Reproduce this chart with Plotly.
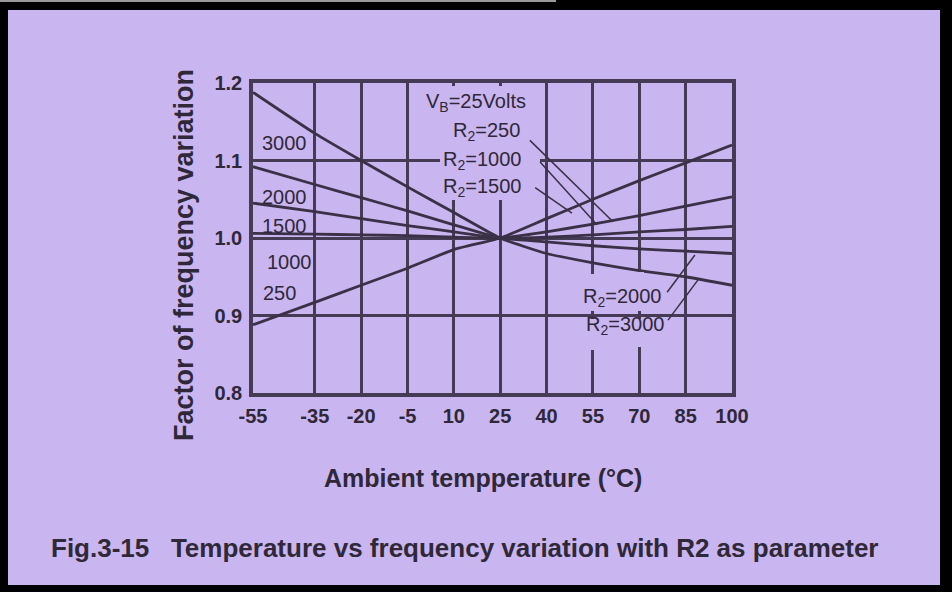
import plotly.graph_objects as go

# ---- data ----
temps = [-55, -35, -20, -5, 10, 25, 40, 55, 70, 85, 100]
tick_temps = [-55, -35, -20, -5, 10, 25, 40, 55, 70, 85, 100]
tick_factor = [0.8, 0.9, 1.0, 1.1, 1.2]
tick_factor_text = ["0.8", "0.9", "1.0", "1.1", "1.2"]

r250 = [0.888, 0.917, 0.939, 0.961, 0.985, 1.0, 1.025, 1.050, 1.074, 1.097, 1.120]
r1000 = [1.006, 1.005, 1.004, 1.003, 1.001, 1.0, 1.008, 1.018, 1.029, 1.041, 1.053]
r1500 = [1.045, 1.034, 1.025, 1.016, 1.008, 1.0, 1.001, 1.004, 1.008, 1.011, 1.015]
r2000 = [1.092, 1.069, 1.052, 1.035, 1.017, 1.0, 0.995, 0.990, 0.986, 0.983, 0.980]
r3000 = [1.188, 1.135, 1.100, 1.066, 1.033, 1.0, 0.980, 0.968, 0.958, 0.950, 0.939]

series = [("250", r250), ("1000", r1000), ("1500", r1500), ("2000", r2000), ("3000", r3000)]

BG = "#C9B5EF"
INK = "#2f2838"
GRID = "#463b54"
LINE = "#3a3146"

W, H = 952, 592
ML, MR, MT, MB = 253, 220, 83, 199
PW, PH = W - ML - MR, H - MT - MB


def px(xp):
    return (xp - ML) / PW


def py(yp):
    return (H - MB - yp) / PH


fig = go.Figure()
for name, vals in series:
    fig.add_trace(go.Scatter(x=temps, y=vals, mode="lines", name=name,
                             line=dict(color=LINE, width=2.8, shape="spline", smoothing=0.5),
                             showlegend=False, hoverinfo="skip"))

FONT = "Liberation Sans, Arial, sans-serif"


def note(text, xp, yp, size, bold=False, angle=0):
    f = dict(family=FONT, size=size, color=INK)
    if bold:
        f["weight"] = "bold"
    return dict(x=px(xp), y=py(yp), xref="paper", yref="paper", text=text,
                xanchor="center", yanchor="middle", showarrow=False,
                textangle=angle, font=f)


annotations = []
# left-side labels inside plot
for txt, xp, yp in [("3000", 284, 143), ("2000", 284, 197), ("1500", 284, 226),
                    ("1000", 289, 262), ("250", 279, 293)]:
    annotations.append(note(txt, xp, yp, 20))

# upper right labels block
for txt, xp, yp in [("V<sub>B</sub>=25Volts", 476, 102), ("R<sub>2</sub>=250", 486, 131),
                    ("R<sub>2</sub>=1000", 482, 160), ("R<sub>2</sub>=1500", 482, 187)]:
    annotations.append(note(txt, xp, yp, 20))

# lower right labels
for txt, xp, yp in [("R<sub>2</sub>=2000", 622, 297), ("R<sub>2</sub>=3000", 625, 325)]:
    annotations.append(note(txt, xp, yp, 20))

# axis titles and caption
annotations.append(note("Factor of frequency variation", 184, 255, 27, bold=True, angle=-90))
annotations.append(note("Ambient tempperature (°C)", 483, 478, 25, bold=True))
annotations.append(note("Fig.3-15   Temperature vs frequency variation with R2 as parameter",
                        464, 548, 26, bold=True))

shapes = []
# background patches where the labels hide the grid
for x0, y0, x1, y1 in [(440, 86, 540, 200),
                       (588, 274, 598, 311), (588, 319, 598, 350),
                       (634, 272, 644, 311), (634, 319, 644, 347)]:
    shapes.append(dict(type="rect", xref="paper", yref="paper",
                       x0=px(x0), x1=px(x1), y0=py(y1), y1=py(y0),
                       line=dict(width=0), fillcolor=BG, layer="above"))

# leader lines (data coordinates)
for x0, y0, x1, y1 in [(34.6, 1.126, 61.5, 1.021), (37.9, 1.098, 56.3, 1.017),
                       (36.3, 1.065, 48.2, 1.032), (79.0, 0.930, 88.0, 0.978),
                       (79.3, 0.894, 89.0, 0.946)]:
    shapes.append(dict(type="line", xref="x", yref="y", x0=x0, y0=y0, x1=x1, y1=y1,
                       line=dict(color=LINE, width=1.5), layer="above"))

# black frame around the picture
for x0, y0, x1, y1 in [(0, 0, 8, H), (0, 0, W, 10), (940, 0, W, H), (0, 585, W, H)]:
    shapes.append(dict(type="rect", xref="paper", yref="paper",
                       x0=px(x0), x1=px(x1), y0=py(y1), y1=py(y0),
                       line=dict(width=0), fillcolor="black", layer="above"))
shapes.append(dict(type="line", xref="paper", yref="paper", x0=px(0), x1=px(556),
                   y0=py(1), y1=py(1), line=dict(color="#9a9a9a", width=2), layer="above"))

fig.update_layout(
    width=W, height=H,
    margin=dict(l=ML, r=MR, t=MT, b=MB, pad=0),
    paper_bgcolor=BG, plot_bgcolor=BG,
    annotations=annotations, shapes=shapes,
    xaxis=dict(range=[-55, 100], tickvals=tick_temps, ticktext=[str(t) for t in tick_temps],
               showgrid=True, gridcolor=GRID, gridwidth=3, zeroline=False,
               showline=True, linecolor=GRID, linewidth=3.5, mirror=True, ticks="",
               ticklabelstandoff=2,
               tickfont=dict(family=FONT, size=20, color=INK, weight="bold")),
    yaxis=dict(range=[0.8, 1.2], tickvals=tick_factor, ticktext=tick_factor_text,
               showgrid=True, gridcolor=GRID, gridwidth=3, zeroline=False,
               showline=True, linecolor=GRID, linewidth=3.5, mirror=True, ticks="",
               ticklabelstandoff=3,
               tickfont=dict(family=FONT, size=20, color=INK, weight="bold")),
)

fig.write_html("out.html")
